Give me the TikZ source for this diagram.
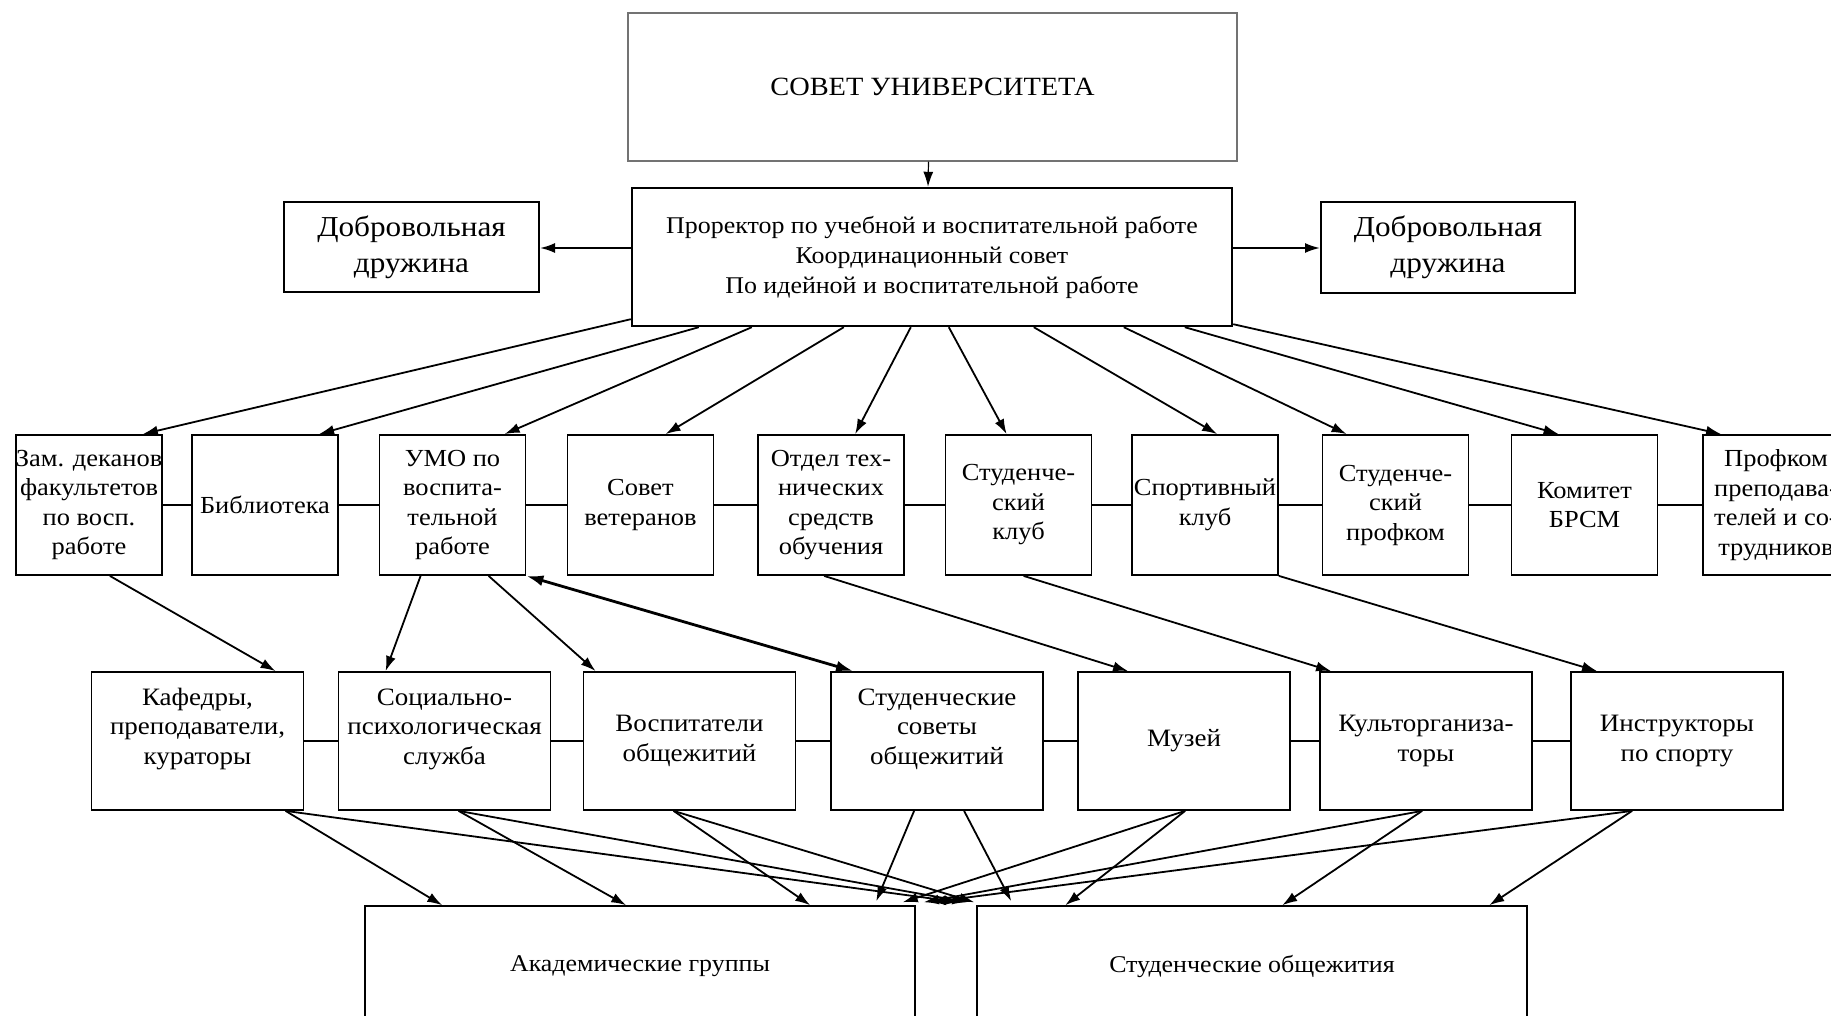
\documentclass[tikz,border=0pt]{standalone}
\usepackage{fontspec}
\setmainfont[FakeStretch=1.08]{Liberation Serif}
\usetikzlibrary{arrows.meta,calc}
\begin{document}
\begin{tikzpicture}[x=1pt,y=-1pt,
  box/.style={draw, line width=1.8pt, inner sep=0pt, align=center, font=\fontsize{24.5}{29.5}\selectfont},
  rb/.style={box, minimum width=146pt, minimum height=140pt},
  lb/.style={box, minimum width=212pt, minimum height=138pt, font=\fontsize{25}{29.5}\selectfont},
  bb/.style={draw, line width=1.5pt, inner sep=0pt, minimum width=550pt, minimum height=120pt, font=\fontsize{24}{29}\selectfont},
  arr/.style={line width=1.8pt, -{Latex[length=15pt,width=10pt]}},
  link/.style={line width=1.8pt}]
\fill[white] (0,0) rectangle (1831,1016);
\useasboundingbox (0,0) rectangle (1831,1016);

% top
\node[draw=black!55, line width=1.2pt, minimum width=609pt, minimum height=148pt, font=\fontsize{26.3}{30}\selectfont] (sov) at (932.5,87) {СОВЕТ УНИВЕРСИТЕТА};
\node[draw, line width=2.4pt, minimum width=600pt, minimum height=138pt, align=center, font=\fontsize{24}{30}\selectfont] (pr) at (932,257)
  {Проректор по учебной и воспитательной работе\\Координационный совет\\По идейной и воспитательной работе};
\node[draw, line width=2pt, minimum width=255pt, minimum height=90pt, align=center, font=\fontsize{28.9}{36}\selectfont] (ddl) at (411.5,247) {Добровольная\\дружина};
\node[draw, line width=2pt, minimum width=254pt, minimum height=91pt, align=center, font=\fontsize{28.9}{36}\selectfont] (ddr) at (1448,247.5) {Добровольная\\дружина};

\draw[arr, line width=1.2pt] ($(sov.south)+(-4,0)$) -- ($(pr.north)+(-4,0)$);
\draw[arr, line width=2pt] ($(pr.west)+(0,-9)$) -- ($(ddl.east)+(0,1)$);
\draw[arr, line width=2pt] ($(pr.east)+(0,-9)$) -- ($(ddr.west)+(0,0.5)$);

% row 2
\node[rb] (a1) at (89,505) {Зам. деканов\\факультетов\\по восп.\\работе};
\node[rb] (a2) at (265,505) {Библиотека};
\node[rb] (a3) at (452.5,505) {УМО по\\воспита-\\тельной\\работе};
\node[rb] (a4) at (640.5,505) {Совет\\ветеранов};
\node[rb] (a5) at (831,505) {Отдел тех-\\нических\\средств\\обучения};
\node[rb] (a6) at (1018.5,505) {Студенче-\\ский\\клуб};
\node[rb] (a7) at (1205,505) {Спортивный\\клуб};
\node[rb] (a8) at (1395.5,505) {Студенче-\\ский\\профком};
\node[rb] (a9) at (1584.5,505) {Комитет\\БРСМ};
\node[rb] (a10) at (1776,505) {Профком\\преподава-\\телей и со-\\трудников};
\foreach \i/\j in {1/2,2/3,3/4,4/5,5/6,6/7,7/8,8/9,9/10} \draw[link] (a\i) -- (a\j);

% row 3
\node[lb] (b1) at (197.5,741) {Кафедры,\\преподаватели,\\кураторы\\\mbox{}};
\node[lb] (b2) at (444.5,741) {Социально-\\психологическая\\служба\\\mbox{}};
\node[lb] (b3) at (689.5,741) {Воспитатели\\общежитий};
\node[lb] (b4) at (937,741) {Студенческие\\советы\\общежитий\\\mbox{}};
\node[lb] (b5) at (1184,741) {Музей};
\node[lb] (b6) at (1426,741) {Культорганиза-\\торы};
\node[lb] (b7) at (1677,741) {Инструкторы\\по спорту};
\foreach \i/\j in {1/2,2/3,3/4,4/5,5/6,6/7} \draw[link] (b\i.east |- b1.east) -- (b\j.west |- b1.west);

% bottom
\node[bb] (ag) at (640,966) {Академические группы};
\node[bb] (sd) at (1252,966) {Студенческие общежития};

% prorector -> row 2
\draw[arr] ($(pr.south west)+(0,-8)$) -- ($(a1.north west)+(128,0)$);
\draw[arr] ($(pr.south west)+(68,0)$) -- ($(a2.north west)+(128,0)$);
\draw[arr] ($(pr.south west)+(121,0)$) -- ($(a3.north west)+(126,0)$);
\draw[arr] ($(pr.south west)+(213,0)$) -- ($(a4.north west)+(99,0)$);
\draw[arr] ($(pr.south west)+(280,0)$) -- ($(a5.north west)+(98,0)$);
\draw[arr] ($(pr.south west)+(318,0)$) -- ($(a6.north west)+(62,0)$);
\draw[arr] ($(pr.south west)+(403,0)$) -- ($(a7.north west)+(86,0)$);
\draw[arr] ($(pr.south west)+(493,0)$) -- ($(a8.north west)+(25,0)$);
\draw[arr] ($(pr.south west)+(554,0)$) -- ($(a9.north west)+(48,0)$);
\draw[arr] ($(pr.south east)+(0,-3)$) -- ($(a10.north west)+(19,0)$);

% row 2 -> row 3
\draw[arr] ($(a1.south west)+(95,0)$) -- ($(b1.north west)+(185,0)$);
\draw[arr] ($(a3.south west)+(42,0)$) -- ($(b2.north west)+(48,0)$);
\draw[arr] ($(a3.south west)+(110,0)$) -- ($(b3.north west)+(13,0)$);
\draw[line width=2.8pt, {Latex[length=17pt,width=11pt]}-{Latex[length=17pt,width=11pt]}] (a3.south east) -- ($(b4.north west)+(23,0)$);
\draw[arr] ($(a5.south west)+(67,0)$) -- ($(b5.north west)+(51,0)$);
\draw[arr] ($(a6.south west)+(79,0)$) -- ($(b6.north west)+(12,0)$);
\draw[arr] (a7.south east) -- ($(b7.north west)+(27,0)$);

% row 3 -> bottom
\draw[arr] ($(b1.south west)+(195,0)$) -- ($(ag.north west)+(78,0)$);
\draw[arr] ($(b1.south west)+(195,0)$) -- ($(sd.north west)+(-17,-3)$);
\draw[arr] ($(b2.south west)+(121,0)$) -- ($(ag.north west)+(262,0)$);
\draw[arr] ($(b2.south west)+(121,0)$) -- ($(sd.north west)+(-9,-3)$);
\draw[arr] ($(b3.south west)+(91,0)$) -- ($(ag.north west)+(446,0)$);
\draw[arr] ($(b3.south west)+(91,0)$) -- ($(sd.north west)+(-2,-3)$);
\draw[arr] ($(b4.south west)+(84,0)$) -- ($(ag.north west)+(512,-4)$);
\draw[arr] ($(b4.south west)+(134,0)$) -- ($(sd.north west)+(35,-4)$);
\draw[arr] ($(b5.south west)+(108,0)$) -- ($(sd.north west)+(89,0)$);
\draw[arr] ($(b5.south west)+(108,0)$) -- ($(ag.north east)+(-13,-3)$);
\draw[arr] ($(b6.south west)+(103,0)$) -- ($(sd.north west)+(306,0)$);
\draw[arr] ($(b6.south west)+(103,0)$) -- ($(ag.north east)+(8,-3)$);
\draw[arr] ($(b7.south west)+(62,0)$) -- ($(sd.north west)+(513,0)$);
\draw[arr] ($(b7.south west)+(62,0)$) -- ($(ag.north east)+(15,-3)$);
\end{tikzpicture}
\end{document}
